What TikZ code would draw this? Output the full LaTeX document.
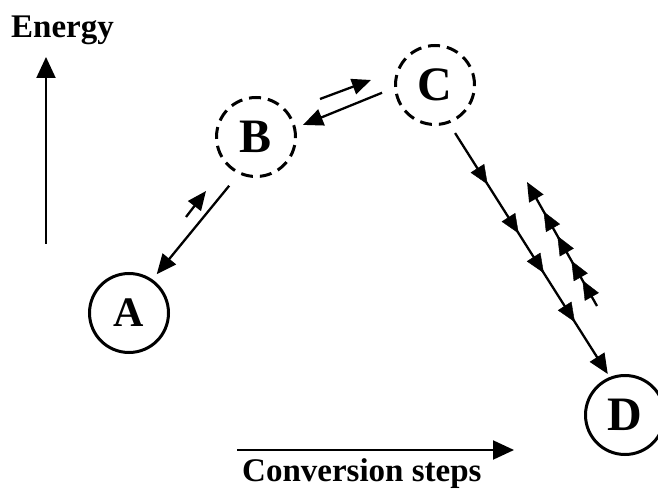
\documentclass[tikz,border=0pt]{standalone}
\usepackage{fontspec}
\setmainfont{Liberation Serif}
\usetikzlibrary{arrows.meta,decorations.markings}
\tikzset{
  mtip/.tip={Triangle[length=19pt,width=16pt]},
  btip/.tip={Triangle[length=20pt,width=17pt]},
  atip/.tip={Triangle[length=21pt,width=19pt]}}
\begin{document}
\begin{tikzpicture}[x=1pt,y=-1pt,
  state/.style={circle, draw, line width=3pt, minimum size=79pt, inner sep=0pt,
    font=\bfseries\fontsize{48}{48}\selectfont},
  dstate/.style={state, dash pattern=on 12pt off 7pt},
  conn/.style={line width=2.3pt, -btip},
  small/.style={line width=2.3pt, -mtip},
  axisarrow/.style={line width=2pt, -atip},
  lbl/.style={font=\bfseries\fontsize{33}{38}\selectfont, inner sep=0pt, anchor=base west}]
\useasboundingbox (0,0) rectangle (658,494);

% axes
\node[lbl] (energy) at (11,38) {Energy};
\coordinate (ey0) at (46,244);
\coordinate (ey1) at (46,57);
\draw[axisarrow] (ey0) -- (ey1);
\coordinate (cx0) at (237,450);
\coordinate (cx1) at (514,450);
\draw[axisarrow] (cx0) -- (cx1);
\node[lbl] (conv) at (242,481) {Conversion steps};

% states
\node[state, font=\bfseries\fontsize{42}{42}\selectfont] (A) at (129,313) {A};
\node[dstate] (B) at (256,137) {B};
\node[dstate] (C) at (435,85) {C};
\node[state] (D) at (625,415) {D};

% A <-> B
\draw[conn, shorten <=15pt, shorten >=6.6pt] (B.245.6) -- (A.55.3);
\coordinate (ab1) at (186,217);
\coordinate (ab2) at (206,191);
\draw[small] (ab1) -- (ab2);

% B <-> C
\draw[conn, shorten <=13pt, shorten >=7.6pt] (C.184.6) -- (B.13.3);
\coordinate (bc1) at (320,99);
\coordinate (bc2) at (371,80);
\draw[small] (bc1) -- (bc2);

% C -> D with marks
\draw[conn, shorten <=11.3pt, shorten >=3.5pt] (C.290.5) -- (D.112.2);
\path[decorate, decoration={markings,
  mark=at position 72pt with {\arrow{mtip}},
  mark=at position 130pt with {\arrow{mtip}},
  mark=at position 177pt with {\arrow{mtip}},
  mark=at position 235pt with {\arrow{mtip}}}]
  (C.290.5) -- (D.112.2);

% return path
\coordinate (r1) at (597,306);
\coordinate (r2) at (527,182);
\draw[small] (r1) -- (r2);
\path[decorate, decoration={markings,
  mark=at position 29.5pt with {\arrow{mtip}},
  mark=at position 52pt with {\arrow{mtip}},
  mark=at position 80.5pt with {\arrow{mtip}},
  mark=at position 108.5pt with {\arrow{mtip}}}]
  (r1) -- (r2);
\end{tikzpicture}
\end{document}
